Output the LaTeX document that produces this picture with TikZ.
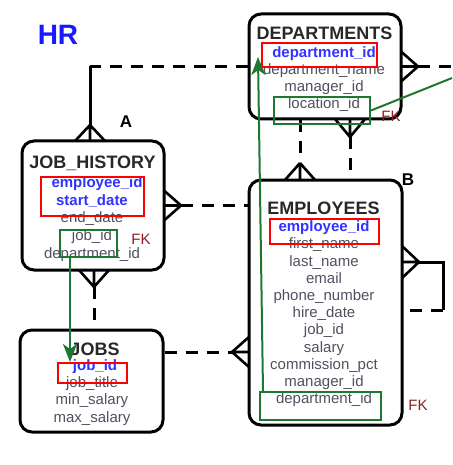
\documentclass[tikz,border=0pt]{standalone}
\usepackage{fontspec}
\setmainfont{Liberation Sans}
\usetikzlibrary{arrows.meta}

\definecolor{hrblue}{RGB}{25,25,255}
\definecolor{pkblue}{RGB}{50,50,255}
\definecolor{fieldgray}{RGB}{80,80,95}
\definecolor{titlegray}{RGB}{40,40,40}
\definecolor{fkgreen}{RGB}{30,120,50}
\definecolor{fkred}{RGB}{140,30,30}

\tikzset{
  entity/.style={draw, line width=3pt, rounded corners=12pt, inner sep=0pt},
  title/.style={font=\fontsize{18}{18}\selectfont\bfseries, text=titlegray, anchor=base},
  field/.style={font=\fontsize{15}{15}\selectfont, text=fieldgray, anchor=base},
  pk/.style={field, font=\fontsize{15}{15}\selectfont\bfseries, text=pkblue},
  pkbox/.style={draw=red, line width=2pt, inner sep=0pt},
  fkbox/.style={draw=fkgreen, line width=2pt, inner sep=0pt},
  fklabel/.style={font=\fontsize{15}{15}\selectfont, text=fkred, anchor=base},
  tag/.style={font=\fontsize{17}{17}\selectfont\bfseries, anchor=base},
  rel/.style={line width=3pt, dash pattern=on 12pt off 9pt},
  foot/.style={line width=2.6pt},
  link/.style={fkgreen, line width=2pt, -{Stealth[length=18pt,width=14pt,inset=5pt]}},
}

\begin{document}
\begin{tikzpicture}[x=1pt,y=-1pt]
\useasboundingbox (0,0) rectangle (452,465);

\node[font=\fontsize{28}{28}\selectfont\bfseries, text=hrblue, anchor=base] (hr) at (58,45) {HR};

% tables
\node[entity, minimum width=152pt, minimum height=105pt] (dep) at (325,66.5) {};
\node[entity, minimum width=142pt, minimum height=129pt] (jh) at (93,205.5) {};
\node[entity, minimum width=143pt, minimum height=102pt] (jobs) at (91.5,381) {};
\node[entity, minimum width=153pt, minimum height=245pt] (emp) at (325.5,302.5) {};

\node[title] (depname) at (324.5,39.5) {DEPARTMENTS};
\node[title] (jhname) at (92.5,168) {JOB\_HISTORY};
\node[title] (jobsname) at (95,355.5) {JOBS};
\node[title] (empname) at (323.5,214) {EMPLOYEES};

% columns
\node[pk] (dep-0) at (324,58) {department\_id};
\foreach \f [count=\i] in {department\_name,manager\_id,location\_id}
  \node[field] (dep-\i) at (324,58+17*\i) {\f};

\node[pk] (jh-0) at (97,187) {employee\_id};
\node[pk] (jh-1) at (92,205) {start\_date};
\foreach \f [count=\i from 2] in {end\_date,job\_id,department\_id}
  \node[field] (jh-\i) at (92,205+17.7*\i-17.7) {\f};

\node[pk] (jobs-0) at (95,370) {job\_id};
\foreach \f [count=\i] in {job\_title,min\_salary,max\_salary}
  \node[field] (jobs-\i) at (92,369.5+17.6*\i) {\f};

\node[pk] (emp-0) at (324,231.6) {employee\_id};
\foreach \f [count=\i] in {first\_name,last\_name,email,phone\_number,hire\_date,job\_id,salary,commission\_pct,manager\_id,department\_id}
  \node[field] (emp-\i) at (324,231.6+17.2*\i) {\f};

% relationships
\coordinate (corner) at (90,66.5);
\coordinate (jhtop) at (90,125);
\draw[rel] (dep.west) -- (corner);
\draw[line width=3pt] (corner) -- (jhtop);
\draw[foot] (jhtop) -- ++(-15,16) (jhtop) -- ++(0,16) (jhtop) -- ++(15,16);

\coordinate (depR) at (418,66.5);
\coordinate (depEnd) at (452,66.5);
\draw[rel] (depR) -- (depEnd);
\draw[foot] (depR) -- ++(-17,-15) (depR) -- ++(-17,0) (depR) -- ++(-17,15);

\coordinate (empTop) at (300,163);
\draw[rel] (dep.south -| empTop) -- (empTop);
\draw[foot] (empTop) -- ++(-15,17) (empTop) -- ++(0,17) (empTop) -- ++(15,17);

\coordinate (depBot) at (350,137);
\draw[rel] (depBot) -- (emp.north -| depBot);
\draw[foot] (depBot) -- ++(-15,-18) (depBot) -- ++(0,-18) (depBot) -- ++(15,-18);

\coordinate (jhR) at (181,205.5);
\draw[rel] (jhR) -- (emp.west |- jhR);
\draw[foot] (jhR) -- ++(-17,-15) (jhR) -- ++(-17,0) (jhR) -- ++(-17,15);

\coordinate (jhBot) at (94,287);
\draw[rel] (jhBot) -- (jobs.north -| jhBot);
\draw[foot] (jhBot) -- ++(-15,-17) (jhBot) -- ++(0,-17) (jhBot) -- ++(15,-17);

\coordinate (empL) at (232,352);
\draw[rel] (jobs.east |- empL) -- (empL);
\draw[foot] (empL) -- ++(17,-15) (empL) -- ++(17,0) (empL) -- ++(17,15);

\coordinate (empR) at (419,262);
\coordinate (selfA) at (443,262);
\coordinate (selfB) at (443,310);
\draw[line width=3pt] (empR) -- (selfA) -- (selfB);
\draw[rel] (selfB) -- (emp.east |- selfB);
\draw[foot] (empR) -- ++(-17,-16) (empR) -- ++(-17,0) (empR) -- ++(-17,16);

\node[tag] (tagA) at (126,128) {A};
\node[tag] (tagB) at (408,185) {B};

% keys
\node[pkbox, minimum width=115pt, minimum height=24pt] (deppk) at (319.5,55) {};
\node[fkbox, minimum width=96pt, minimum height=27pt] (locfk) at (322,110.5) {};
\node[pkbox, minimum width=103pt, minimum height=39pt] (jhpk) at (92.5,196.5) {};
\node[fkbox, minimum width=57pt, minimum height=27pt] (jhfk) at (88.5,243.5) {};
\node[pkbox, minimum width=69pt, minimum height=20pt] (jobpk) at (92.5,373) {};
\node[pkbox, minimum width=109pt, minimum height=25pt] (emppk) at (324.5,231.5) {};
\node[fkbox, minimum width=121pt, minimum height=28pt] (empfk) at (320.5,406) {};

\node[fklabel] (fk1) at (391,122) {FK};
\node[fklabel] (fk2) at (141,244) {FK};
\node[fklabel] (fk3) at (418,410) {FK};

\coordinate (locEnd) at (452,78);
\draw[link] ([xshift=-18.5pt]jhfk.south) -- ([xshift=-22.5pt]jobpk.north);
\draw[link] ([xshift=-57.5pt]empfk.north) -- ([xshift=-3pt,yshift=-2pt]deppk.west);
\draw[fkgreen, line width=2pt] (locfk.east) -- (locEnd);
\end{tikzpicture}
\end{document}
